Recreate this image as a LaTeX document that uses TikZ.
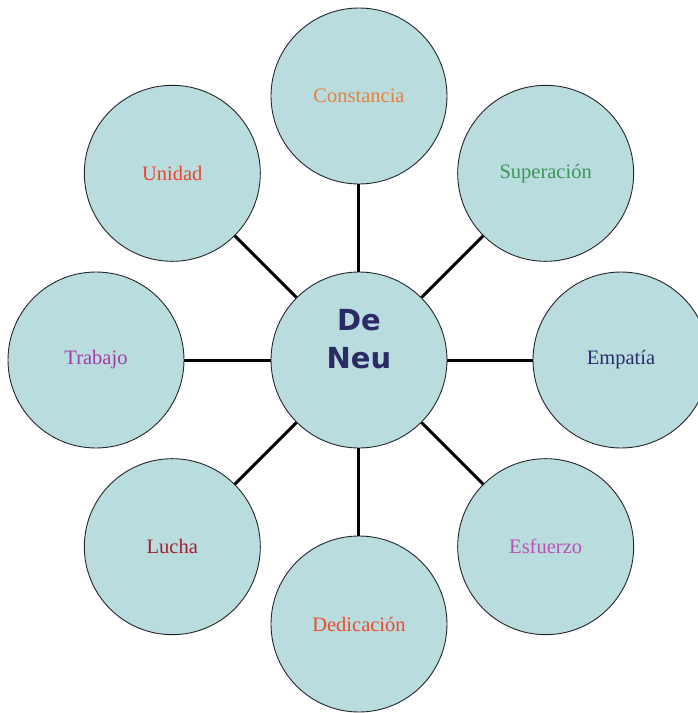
\documentclass[tikz,border=0pt]{standalone}
\usepackage{fontspec}
\setmainfont{Liberation Serif}
\newfontfamily\hubfont{DejaVu Sans}
\definecolor{circfill}{RGB}{185,220,223}
\definecolor{hubtext}{RGB}{42,42,100}
\definecolor{constcol}{RGB}{232,128,58}
\definecolor{supercol}{RGB}{60,150,92}
\definecolor{empatcol}{RGB}{45,45,110}
\definecolor{esfucol}{RGB}{190,80,180}
\definecolor{dedicol}{RGB}{235,75,45}
\definecolor{luchacol}{RGB}{165,30,45}
\definecolor{trabcol}{RGB}{165,60,165}
\definecolor{unidcol}{RGB}{235,70,45}

\begin{document}
\begin{tikzpicture}[x=1pt,y=1pt,
  circ/.style={circle,draw=black!85,line width=0.9pt,fill=circfill,
    minimum size=176pt,inner sep=0pt,font=\fontsize{20.5}{24}\selectfont},
  link/.style={line width=3pt}]
\useasboundingbox (-359,-353) rectangle (339,360);
% centre
\node[circ,text=hubtext,align=center,
  font=\hubfont\bfseries\fontsize{29}{38}\selectfont] (deneu) at (0,0) {De\\Neu\\[-8pt]\strut};
% ring of values
\node[circ,text=constcol] (constancia) at (90:264) {Constancia};
\node[circ,text=supercol] (superacion) at (45:264) {Superación};
\node[circ,text=empatcol] (empatia) at (0:262) {Empatía};
\node[circ,text=esfucol] (esfuerzo) at (-45:264) {Esfuerzo};
\node[circ,text=dedicol] (dedicacion) at (-90:264) {Dedicación};
\node[circ,text=luchacol] (lucha) at (-135:264) {Lucha};
\node[circ,text=trabcol] (trabajo) at (180:263) {Trabajo};
\node[circ,text=unidcol] (unidad) at (135:264) {Unidad};
% spokes
\draw[link] (deneu) -- (constancia);
\draw[link] (deneu) -- (superacion);
\draw[link] (deneu) -- (empatia);
\draw[link] (deneu) -- (esfuerzo);
\draw[link] (deneu) -- (dedicacion);
\draw[link] (deneu) -- (lucha);
\draw[link] (deneu) -- (trabajo);
\draw[link] (deneu) -- (unidad);
\end{tikzpicture}
\end{document}
